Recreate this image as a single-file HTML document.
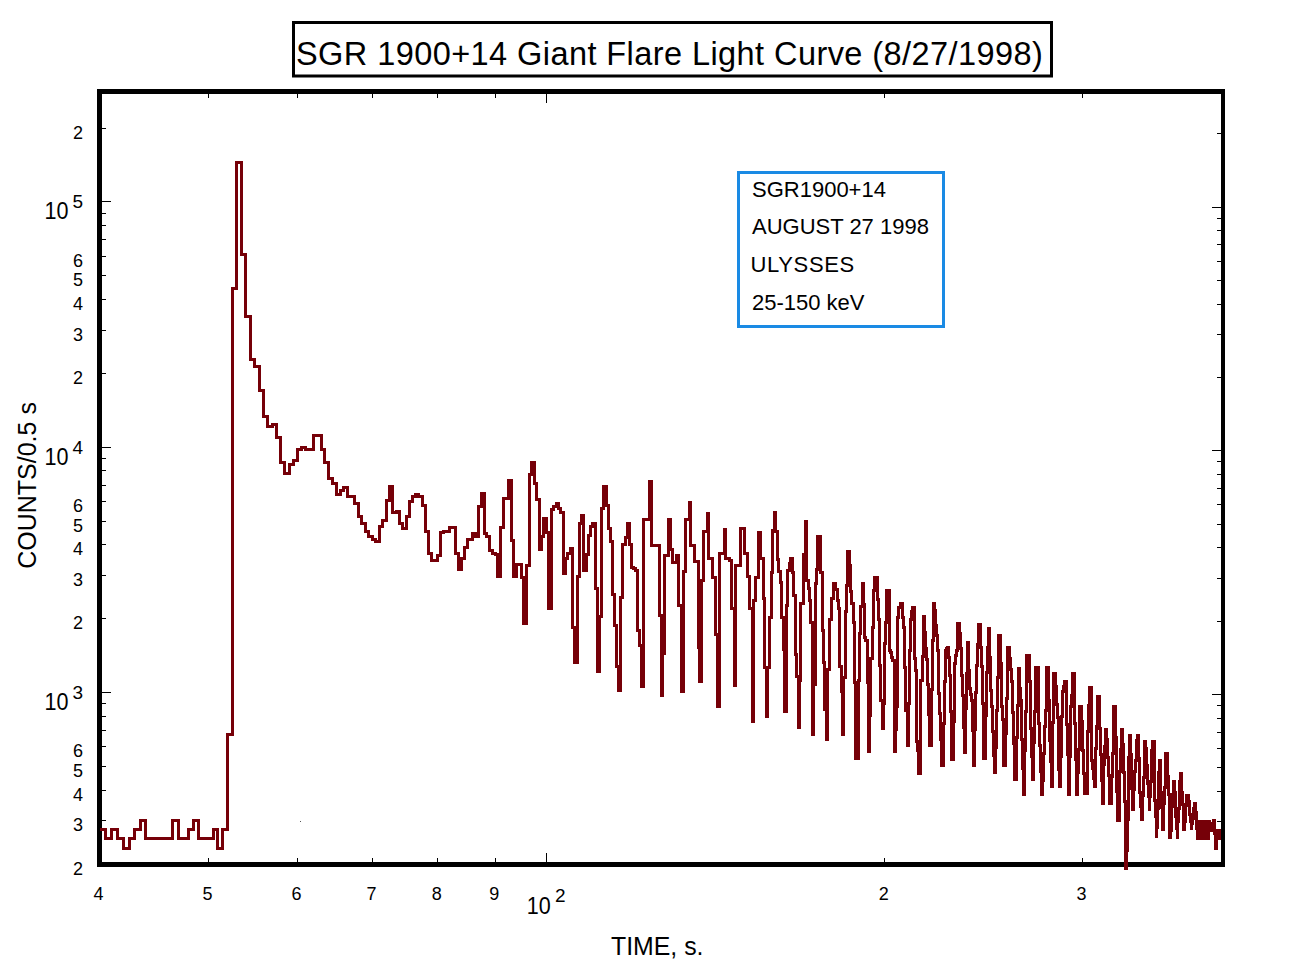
<!DOCTYPE html>
<html><head><meta charset="utf-8"><title>SGR 1900+14 Giant Flare Light Curve</title>
<style>
html,body{margin:0;padding:0;background:#fff;overflow:hidden;}
svg{display:block;}
text{font-family:"Liberation Sans",Arial,Helvetica,sans-serif;fill:#000;}
.d{font-size:18px;}
.b{font-size:24px;}
.s{font-size:19px;}
.t{font-size:26px;}
.c{font-size:25.5px;}
.ti{font-size:32.5px;}
.lg{font-size:22px;}
</style></head><body>
<svg width="1300" height="975" viewBox="0 0 1300 975">
<rect width="1300" height="975" fill="#fff"/>
<path d="M97 89H1225V94H97ZM97 862H1225V867H97ZM97 89H102V867H97ZM1221 89H1225V867H1221Z" fill="#000"/>
<path d="M102 820h4v1h-4ZM1217 821h4v1h-4ZM102 790h4v1h-4ZM1217 791h4v1h-4ZM102 766h4v1h-4ZM1217 767h4v1h-4ZM102 746h4v1h-4ZM1217 748h4v1h-4ZM102 730h4v1h-4ZM1217 732h4v1h-4ZM102 716h4v1h-4ZM1217 718h4v1h-4ZM102 703h4v1h-4ZM1217 705h4v1h-4ZM102 692h9v1h-9ZM1212 694h9v1h-9ZM102 618h4v1h-4ZM1217 621h4v1h-4ZM102 575h4v1h-4ZM1217 578h4v1h-4ZM102 544h4v1h-4ZM1217 547h4v1h-4ZM102 521h4v1h-4ZM1217 524h4v1h-4ZM102 501h4v1h-4ZM1217 504h4v1h-4ZM102 485h4v1h-4ZM1217 488h4v1h-4ZM102 470h4v1h-4ZM1217 474h4v1h-4ZM102 458h4v1h-4ZM1217 461h4v1h-4ZM102 447h9v1h-9ZM1212 450h9v1h-9ZM102 373h4v1h-4ZM1217 377h4v1h-4ZM102 330h4v1h-4ZM1217 334h4v1h-4ZM102 299h4v1h-4ZM1217 304h4v1h-4ZM102 275h4v1h-4ZM1217 280h4v1h-4ZM102 256h4v1h-4ZM1217 261h4v1h-4ZM102 239h4v1h-4ZM1217 244h4v1h-4ZM102 225h4v1h-4ZM1217 230h4v1h-4ZM102 213h4v1h-4ZM1217 218h4v1h-4ZM102 201h9v1h-9ZM1212 207h9v1h-9ZM102 128h4v1h-4ZM1217 133h4v1h-4ZM208 858h1v4h-1ZM208 94h1v4h-1ZM297 858h1v4h-1ZM297 94h1v4h-1ZM372 858h1v4h-1ZM372 94h1v4h-1ZM437 858h1v4h-1ZM437 94h1v4h-1ZM495 858h1v4h-1ZM495 94h1v4h-1ZM546 853h1v9h-1ZM546 94h1v9h-1ZM884 858h1v4h-1ZM884 94h1v4h-1ZM1082 858h1v4h-1ZM1082 94h1v4h-1Z" fill="#000"/>
<text x="83" y="138.6" text-anchor="end" class="d">2</text>
<text x="83" y="266.8" text-anchor="end" class="d">6</text>
<text x="83" y="286.2" text-anchor="end" class="d">5</text>
<text x="83" y="310.0" text-anchor="end" class="d">4</text>
<text x="83" y="340.7" text-anchor="end" class="d">3</text>
<text x="83" y="383.9" text-anchor="end" class="d">2</text>
<text x="83" y="512.1" text-anchor="end" class="d">6</text>
<text x="83" y="531.5" text-anchor="end" class="d">5</text>
<text x="83" y="555.3" text-anchor="end" class="d">4</text>
<text x="83" y="586.0" text-anchor="end" class="d">3</text>
<text x="83" y="629.2" text-anchor="end" class="d">2</text>
<text x="83" y="757.4" text-anchor="end" class="d">6</text>
<text x="83" y="776.8" text-anchor="end" class="d">5</text>
<text x="83" y="800.6" text-anchor="end" class="d">4</text>
<text x="83" y="831.3" text-anchor="end" class="d">3</text>
<text x="83" y="874.5" text-anchor="end" class="d">2</text>
<text x="44.6" y="710.0" class="b" textLength="24" lengthAdjust="spacingAndGlyphs">10</text><text x="72.6" y="699.0" class="s">3</text>
<text x="44.6" y="464.7" class="b" textLength="24" lengthAdjust="spacingAndGlyphs">10</text><text x="72.6" y="453.7" class="s">4</text>
<text x="44.6" y="219.4" class="b" textLength="24" lengthAdjust="spacingAndGlyphs">10</text><text x="72.6" y="208.4" class="s">5</text>
<text x="98.6" y="900" text-anchor="middle" class="d">4</text>
<text x="207.5" y="900" text-anchor="middle" class="d">5</text>
<text x="296.4" y="900" text-anchor="middle" class="d">6</text>
<text x="371.6" y="900" text-anchor="middle" class="d">7</text>
<text x="436.8" y="900" text-anchor="middle" class="d">8</text>
<text x="494.2" y="900" text-anchor="middle" class="d">9</text>
<text x="883.7" y="900" text-anchor="middle" class="d">2</text>
<text x="1081.5" y="900" text-anchor="middle" class="d">3</text>
<text x="526.8" y="913.5" class="b" textLength="24" lengthAdjust="spacingAndGlyphs">10</text><text x="555" y="901.5" class="s">2</text>
<text x="611" y="955" class="t" textLength="92.5" lengthAdjust="spacingAndGlyphs">TIME, s.</text>
<text transform="translate(36,568.7) rotate(-90)" class="c" textLength="166.6" lengthAdjust="spacingAndGlyphs">COUNTS/0.5 s</text>
<path d="M292 21H1053V24H292ZM292 74.6H1053V77.5H292ZM292 21H295V77.5H292ZM1050 21H1053V77.5H1050Z" fill="#000"/>
<text x="296" y="64.6" class="ti" textLength="746.8" lengthAdjust="spacing">SGR 1900+14 Giant Flare Light Curve (8/27/1998)</text>
<path d="M737 171H945V174H737ZM737 325H945V328H737ZM737 171H740V328H737ZM942 171H945V328H942Z" fill="#1a8ae4"/>
<text x="752" y="196.7" class="lg">SGR1900+14</text>
<text x="752" y="234.4" class="lg">AUGUST 27 1998</text>
<text x="750.6" y="272.1" class="lg" textLength="103.6" lengthAdjust="spacing">ULYSSES</text>
<text x="752" y="309.8" class="lg">25-150 keV</text>
<path d="M101.5 829.5L105.5 829.5L105.5 838.5L111.5 838.5L111.5 829.5L117.5 829.5L117.5 838.5L123.5 838.5L123.5 848.5L129.5 848.5L129.5 838.5L134.5 838.5L134.5 829.5L140.5 829.5L140.5 820.5L145.5 820.5L145.5 838.5L172.5 838.5L172.5 820.5L178.5 820.5L178.5 838.5L188.5 838.5L188.5 829.5L193.5 829.5L193.5 820.5L198.5 820.5L198.5 838.5L213.5 838.5L213.5 829.5L217.5 829.5L217.5 848.5L222.5 848.5L222.5 829.5L227.5 829.5L227.5 734.5L232.5 734.5L232.5 288.5L236.5 288.5L236.5 162.5L241.5 162.5L241.5 254.5L245.5 254.5L245.5 316.5L250.5 316.5L250.5 359.5L254.5 359.5L254.5 366.5L259.5 366.5L259.5 390.5L263.5 390.5L263.5 416.5L267.5 416.5L267.5 426.5L272.5 426.5L272.5 424.5L276.5 424.5L276.5 437.5L280.5 437.5L280.5 462.5L284.5 462.5L284.5 473.5L289.5 473.5L289.5 464.5L293.5 464.5L293.5 460.5L297.5 460.5L297.5 449.5L301.5 449.5L301.5 447.5L305.5 447.5L305.5 449.5L313.5 449.5L313.5 435.5L321.5 435.5L321.5 449.5L324.5 449.5L324.5 462.5L328.5 462.5L328.5 478.5L332.5 478.5L332.5 483.5L336.5 483.5L336.5 494.5L340.5 494.5L340.5 490.5L343.5 490.5L343.5 487.5L347.5 487.5L347.5 496.5L354.5 496.5L354.5 503.5L358.5 503.5L358.5 516.5L361.5 516.5L361.5 523.5L365.5 523.5L365.5 531.5L368.5 531.5L368.5 536.5L372.5 536.5L372.5 539.5L375.5 539.5L375.5 541.5L379.5 541.5L379.5 526.5L382.5 526.5L382.5 520.5L386.5 520.5L386.5 500.5L389.5 500.5L389.5 486.5L392.5 486.5L392.5 512.5L396.5 512.5L396.5 511.5L399.5 511.5L399.5 523.5L402.5 523.5L402.5 528.5L406.5 528.5L406.5 516.5L409.5 516.5L409.5 501.5L412.5 501.5L412.5 496.5L415.5 496.5L415.5 494.5L418.5 494.5L418.5 496.5L422.5 496.5L422.5 505.5L425.5 505.5L425.5 531.5L428.5 531.5L428.5 553.5L431.5 553.5L431.5 560.5L437.5 560.5L437.5 555.5L440.5 555.5L440.5 532.5L443.5 532.5L443.5 531.5L449.5 531.5L449.5 527.5L455.5 527.5L455.5 553.5L458.5 553.5L458.5 569.5L461.5 569.5L461.5 558.5L464.5 558.5L464.5 547.5L467.5 547.5L467.5 539.5L472.5 539.5L472.5 533.5L475.5 533.5L475.5 536.5L478.5 536.5L478.5 506.5L481.5 506.5L481.5 493.5L484.5 493.5L484.5 533.5L486.5 533.5L486.5 536.5L489.5 536.5L489.5 550.5L492.5 550.5L492.5 553.5L495.5 553.5L495.5 554.5L497.5 554.5L497.5 576.5L500.5 576.5L500.5 527.5L503.5 527.5L503.5 498.5L508.5 498.5L508.5 480.5L511.5 480.5L511.5 540.5L513.5 540.5L513.5 576.5L516.5 576.5L516.5 564.5L521.5 564.5L521.5 577.5L523.5 577.5L523.5 623.5L526.5 623.5L526.5 565.5L529.5 565.5L529.5 474.5L531.5 474.5L531.5 462.5L534.5 462.5L534.5 483.5L536.5 483.5L536.5 499.5L539.5 499.5L539.5 549.5L541.5 549.5L541.5 536.5L543.5 536.5L543.5 518.5L546.5 518.5L546.5 532.5L548.5 532.5L548.5 608.5L551.5 608.5L551.5 509.5L553.5 509.5L553.5 506.5L556.5 506.5L556.5 503.5L558.5 503.5L558.5 508.5L560.5 508.5L560.5 512.5L563.5 512.5L563.5 573.5L565.5 573.5L565.5 558.5L567.5 558.5L567.5 553.5L570.5 553.5L570.5 548.5L572.5 548.5L572.5 627.5L574.5 627.5L574.5 662.5L577.5 662.5L577.5 576.5L579.5 576.5L579.5 523.5L581.5 523.5L581.5 515.5L583.5 515.5L583.5 570.5L586.5 570.5L586.5 554.5L588.5 554.5L588.5 535.5L590.5 535.5L590.5 526.5L592.5 526.5L592.5 523.5L595.5 523.5L595.5 588.5L597.5 588.5L597.5 671.5L599.5 671.5L599.5 616.5L601.5 616.5L601.5 508.5L603.5 508.5L603.5 486.5L606.5 486.5L606.5 505.5L608.5 505.5L608.5 528.5L610.5 528.5L610.5 541.5L612.5 541.5L612.5 594.5L614.5 594.5L614.5 625.5L616.5 625.5L616.5 666.5L618.5 666.5L618.5 690.5L620.5 690.5L620.5 597.5L622.5 597.5L622.5 544.5L625.5 544.5L625.5 537.5L627.5 537.5L627.5 523.5L629.5 523.5L629.5 544.5L631.5 544.5L631.5 567.5L633.5 567.5L633.5 568.5L635.5 568.5L635.5 570.5L637.5 570.5L637.5 630.5L639.5 630.5L639.5 645.5L641.5 645.5L641.5 686.5L643.5 686.5L643.5 519.5L649.5 519.5L649.5 481.5L651.5 481.5L651.5 545.5L659.5 545.5L659.5 615.5L661.5 615.5L661.5 695.5L662.5 695.5L662.5 653.5L664.5 653.5L664.5 555.5L668.5 555.5L668.5 519.5L670.5 519.5L670.5 549.5L672.5 549.5L672.5 562.5L676.5 562.5L676.5 555.5L678.5 555.5L678.5 605.5L681.5 605.5L681.5 691.5L683.5 691.5L683.5 571.5L685.5 571.5L685.5 519.5L689.5 519.5L689.5 502.5L690.5 502.5L690.5 545.5L694.5 545.5L694.5 561.5L698.5 561.5L698.5 647.5L699.5 647.5L699.5 681.5L701.5 681.5L701.5 580.5L703.5 580.5L703.5 531.5L707.5 531.5L707.5 513.5L708.5 513.5L708.5 558.5L712.5 558.5L712.5 577.5L715.5 577.5L715.5 634.5L717.5 634.5L717.5 706.5L719.5 706.5L719.5 553.5L724.5 553.5L724.5 529.5L725.5 529.5L725.5 558.5L729.5 558.5L729.5 560.5L731.5 560.5L731.5 608.5L734.5 608.5L734.5 685.5L735.5 685.5L735.5 565.5L740.5 565.5L740.5 528.5L744.5 528.5L744.5 553.5L747.5 553.5L747.5 576.5L749.5 576.5L749.5 608.5L752.5 608.5L752.5 721.5L753.5 721.5L753.5 600.5L755.5 600.5L755.5 577.5L758.5 577.5L758.5 532.5L760.5 532.5L760.5 558.5L763.5 558.5L763.5 598.5L764.5 598.5L764.5 667.5L766.5 667.5L766.5 716.5L767.5 716.5L767.5 667.5L769.5 667.5L769.5 617.5L771.5 617.5L771.5 572.5L772.5 572.5L772.5 530.5L774.5 530.5L774.5 512.5L775.5 512.5L775.5 531.5L777.5 531.5L777.5 559.5L778.5 559.5L778.5 571.5L780.5 571.5L780.5 582.5L781.5 582.5L781.5 617.5L783.5 617.5L783.5 649.5L784.5 649.5L784.5 711.5L786.5 711.5L786.5 605.5L787.5 605.5L787.5 570.5L789.5 570.5L789.5 563.5L790.5 563.5L790.5 558.5L792.5 558.5L792.5 572.5L793.5 572.5L793.5 595.5L795.5 595.5L795.5 654.5L796.5 654.5L796.5 676.5L798.5 676.5L798.5 727.5L799.5 727.5L799.5 680.5L800.5 680.5L800.5 603.5L803.5 603.5L803.5 554.5L805.5 554.5L805.5 521.5L806.5 521.5L806.5 580.5L808.5 580.5L808.5 588.5L809.5 588.5L809.5 600.5L810.5 600.5L810.5 622.5L812.5 622.5L812.5 734.5L813.5 734.5L813.5 684.5L815.5 684.5L815.5 583.5L816.5 583.5L816.5 569.5L817.5 569.5L817.5 536.5L820.5 536.5L820.5 572.5L822.5 572.5L822.5 630.5L823.5 630.5L823.5 662.5L824.5 662.5L824.5 709.5L826.5 709.5L826.5 739.5L827.5 739.5L827.5 669.5L829.5 669.5L829.5 619.5L831.5 619.5L831.5 598.5L833.5 598.5L833.5 583.5L835.5 583.5L835.5 589.5L837.5 589.5L837.5 600.5L838.5 600.5L838.5 608.5L839.5 608.5L839.5 666.5L841.5 666.5L841.5 691.5L842.5 691.5L842.5 734.5L843.5 734.5L843.5 677.5L845.5 677.5L845.5 611.5L846.5 611.5L846.5 585.5L847.5 585.5L847.5 551.5L849.5 551.5L849.5 565.5L850.5 565.5L850.5 591.5L851.5 591.5L851.5 603.5L853.5 603.5L853.5 622.5L854.5 622.5L854.5 682.5L855.5 682.5L855.5 758.5L858.5 758.5L858.5 680.5L859.5 680.5L859.5 633.5L860.5 633.5L860.5 606.5L862.5 606.5L862.5 583.5L863.5 583.5L863.5 604.5L864.5 604.5L864.5 637.5L865.5 637.5L865.5 640.5L867.5 640.5L867.5 682.5L868.5 682.5L868.5 751.5L869.5 751.5L869.5 715.5L870.5 715.5L870.5 658.5L872.5 658.5L872.5 627.5L873.5 627.5L873.5 590.5L874.5 590.5L874.5 577.5L877.5 577.5L877.5 599.5L878.5 599.5L878.5 619.5L879.5 619.5L879.5 665.5L880.5 665.5L880.5 700.5L882.5 700.5L882.5 728.5L883.5 728.5L883.5 703.5L884.5 703.5L884.5 643.5L885.5 643.5L885.5 622.5L886.5 622.5L886.5 590.5L889.5 590.5L889.5 650.5L890.5 650.5L890.5 652.5L891.5 652.5L891.5 657.5L892.5 657.5L892.5 660.5L894.5 660.5L894.5 751.5L895.5 751.5L895.5 729.5L896.5 729.5L896.5 706.5L897.5 706.5L897.5 617.5L898.5 617.5L898.5 607.5L900.5 607.5L900.5 603.5L902.5 603.5L902.5 617.5L903.5 617.5L903.5 627.5L904.5 627.5L904.5 667.5L905.5 667.5L905.5 710.5L907.5 710.5L907.5 745.5L908.5 745.5L908.5 703.5L909.5 703.5L909.5 650.5L910.5 650.5L910.5 619.5L911.5 619.5L911.5 611.5L912.5 611.5L912.5 607.5L914.5 607.5L914.5 658.5L915.5 658.5L915.5 670.5L916.5 670.5L916.5 741.5L917.5 741.5L917.5 750.5L918.5 750.5L918.5 773.5L920.5 773.5L920.5 680.5L922.5 680.5L922.5 656.5L923.5 656.5L923.5 616.5L924.5 616.5L924.5 632.5L925.5 632.5L925.5 648.5L926.5 648.5L926.5 659.5L927.5 659.5L927.5 684.5L928.5 684.5L928.5 714.5L929.5 714.5L929.5 745.5L931.5 745.5L931.5 689.5L932.5 689.5L932.5 640.5L933.5 640.5L933.5 603.5L934.5 603.5L934.5 610.5L935.5 610.5L935.5 625.5L936.5 625.5L936.5 635.5L937.5 635.5L937.5 650.5L938.5 650.5L938.5 693.5L939.5 693.5L939.5 713.5L940.5 713.5L940.5 739.5L941.5 739.5L941.5 765.5L943.5 765.5L943.5 723.5L944.5 723.5L944.5 681.5L945.5 681.5L945.5 650.5L946.5 650.5L946.5 648.5L947.5 648.5L947.5 647.5L948.5 647.5L948.5 657.5L949.5 657.5L949.5 675.5L950.5 675.5L950.5 711.5L951.5 711.5L951.5 759.5L953.5 759.5L953.5 721.5L954.5 721.5L954.5 663.5L955.5 663.5L955.5 655.5L956.5 655.5L956.5 650.5L957.5 650.5L957.5 623.5L959.5 623.5L959.5 633.5L960.5 633.5L960.5 648.5L961.5 648.5L961.5 675.5L962.5 675.5L962.5 695.5L963.5 695.5L963.5 727.5L964.5 727.5L964.5 752.5L965.5 752.5L965.5 708.5L966.5 708.5L966.5 673.5L967.5 673.5L967.5 642.5L968.5 642.5L968.5 670.5L969.5 670.5L969.5 688.5L970.5 688.5L970.5 694.5L971.5 694.5L971.5 700.5L972.5 700.5L972.5 730.5L973.5 730.5L973.5 765.5L974.5 765.5L974.5 729.5L975.5 729.5L975.5 692.5L976.5 692.5L976.5 665.5L977.5 665.5L977.5 644.5L978.5 644.5L978.5 624.5L980.5 624.5L980.5 647.5L981.5 647.5L981.5 666.5L982.5 666.5L982.5 703.5L983.5 703.5L983.5 758.5L985.5 758.5L985.5 715.5L986.5 715.5L986.5 672.5L987.5 672.5L987.5 647.5L988.5 647.5L988.5 628.5L989.5 628.5L989.5 657.5L990.5 657.5L990.5 690.5L991.5 690.5L991.5 706.5L992.5 706.5L992.5 731.5L993.5 731.5L993.5 755.5L994.5 755.5L994.5 772.5L995.5 772.5L995.5 747.5L996.5 747.5L996.5 710.5L997.5 710.5L997.5 677.5L998.5 677.5L998.5 635.5L1000.5 635.5L1000.5 663.5L1001.5 663.5L1001.5 706.5L1002.5 706.5L1002.5 719.5L1003.5 719.5L1003.5 765.5L1005.5 765.5L1005.5 733.5L1006.5 733.5L1006.5 698.5L1007.5 698.5L1007.5 647.5L1009.5 647.5L1009.5 658.5L1010.5 658.5L1010.5 669.5L1011.5 669.5L1011.5 681.5L1012.5 681.5L1012.5 712.5L1013.5 712.5L1013.5 743.5L1014.5 743.5L1014.5 779.5L1016.5 779.5L1016.5 737.5L1017.5 737.5L1017.5 705.5L1018.5 705.5L1018.5 668.5L1019.5 668.5L1019.5 688.5L1020.5 688.5L1020.5 700.5L1021.5 700.5L1021.5 739.5L1022.5 739.5L1022.5 768.5L1023.5 768.5L1023.5 794.5L1024.5 794.5L1024.5 750.5L1025.5 750.5L1025.5 711.5L1026.5 711.5L1026.5 655.5L1029.5 655.5L1029.5 681.5L1030.5 681.5L1030.5 728.5L1031.5 728.5L1031.5 756.5L1032.5 756.5L1032.5 779.5L1033.5 779.5L1033.5 742.5L1034.5 742.5L1034.5 711.5L1035.5 711.5L1035.5 667.5L1038.5 667.5L1038.5 723.5L1039.5 723.5L1039.5 745.5L1040.5 745.5L1040.5 771.5L1041.5 771.5L1041.5 794.5L1042.5 794.5L1042.5 780.5L1043.5 780.5L1043.5 753.5L1044.5 753.5L1044.5 726.5L1045.5 726.5L1045.5 710.5L1046.5 710.5L1046.5 667.5L1048.5 667.5L1048.5 700.5L1049.5 700.5L1049.5 740.5L1050.5 740.5L1050.5 761.5L1051.5 761.5L1051.5 786.5L1052.5 786.5L1052.5 722.5L1053.5 722.5L1053.5 673.5L1055.5 673.5L1055.5 686.5L1056.5 686.5L1056.5 704.5L1057.5 704.5L1057.5 717.5L1058.5 717.5L1058.5 769.5L1059.5 769.5L1059.5 786.5L1060.5 786.5L1060.5 756.5L1061.5 756.5L1061.5 716.5L1062.5 716.5L1062.5 691.5L1063.5 691.5L1063.5 686.5L1064.5 686.5L1064.5 681.5L1066.5 681.5L1066.5 724.5L1067.5 724.5L1067.5 754.5L1068.5 754.5L1068.5 794.5L1069.5 794.5L1069.5 756.5L1070.5 756.5L1070.5 706.5L1071.5 706.5L1071.5 695.5L1072.5 695.5L1072.5 673.5L1074.5 673.5L1074.5 723.5L1075.5 723.5L1075.5 759.5L1076.5 759.5L1076.5 794.5L1077.5 794.5L1077.5 772.5L1078.5 772.5L1078.5 749.5L1079.5 749.5L1079.5 706.5L1081.5 706.5L1081.5 721.5L1082.5 721.5L1082.5 750.5L1083.5 750.5L1083.5 773.5L1084.5 773.5L1084.5 793.5L1087.5 793.5L1087.5 731.5L1088.5 731.5L1088.5 705.5L1089.5 705.5L1089.5 687.5L1091.5 687.5L1091.5 760.5L1092.5 760.5L1092.5 768.5L1093.5 768.5L1093.5 778.5L1094.5 778.5L1094.5 786.5L1095.5 786.5L1095.5 748.5L1096.5 748.5L1096.5 726.5L1097.5 726.5L1097.5 696.5L1099.5 696.5L1099.5 728.5L1100.5 728.5L1100.5 754.5L1101.5 754.5L1101.5 780.5L1102.5 780.5L1102.5 803.5L1103.5 803.5L1103.5 764.5L1104.5 764.5L1104.5 746.5L1105.5 746.5L1105.5 729.5L1106.5 729.5L1106.5 739.5L1107.5 739.5L1107.5 757.5L1108.5 757.5L1108.5 775.5L1109.5 775.5L1109.5 803.5L1111.5 803.5L1111.5 776.5L1112.5 776.5L1112.5 753.5L1113.5 753.5L1113.5 706.5L1115.5 706.5L1115.5 737.5L1116.5 737.5L1116.5 791.5L1117.5 791.5L1117.5 820.5L1119.5 820.5L1119.5 771.5L1120.5 771.5L1120.5 749.5L1121.5 749.5L1121.5 729.5L1122.5 729.5L1122.5 744.5L1123.5 744.5L1123.5 772.5L1124.5 772.5L1124.5 801.5L1125.5 801.5L1125.5 868.5L1126.5 868.5L1126.5 850.5L1127.5 850.5L1127.5 819.5L1128.5 819.5L1128.5 757.5L1129.5 757.5L1129.5 735.5L1130.5 735.5L1130.5 754.5L1131.5 754.5L1131.5 788.5L1132.5 788.5L1132.5 809.5L1133.5 809.5L1133.5 789.5L1134.5 789.5L1134.5 771.5L1135.5 771.5L1135.5 760.5L1136.5 760.5L1136.5 740.5L1137.5 740.5L1137.5 735.5L1138.5 735.5L1138.5 758.5L1139.5 758.5L1139.5 792.5L1140.5 792.5L1140.5 806.5L1141.5 806.5L1141.5 819.5L1142.5 819.5L1142.5 795.5L1143.5 795.5L1143.5 777.5L1144.5 777.5L1144.5 741.5L1145.5 741.5L1145.5 748.5L1146.5 748.5L1146.5 765.5L1147.5 765.5L1147.5 783.5L1148.5 783.5L1148.5 796.5L1149.5 796.5L1149.5 810.5L1149.5 796.5L1150.5 796.5L1150.5 781.5L1151.5 781.5L1151.5 750.5L1152.5 750.5L1152.5 741.5L1154.5 741.5L1154.5 800.5L1155.5 800.5L1155.5 816.5L1156.5 816.5L1156.5 837.5L1156.5 827.5L1157.5 827.5L1157.5 808.5L1158.5 808.5L1158.5 772.5L1159.5 772.5L1159.5 760.5L1160.5 760.5L1160.5 792.5L1161.5 792.5L1161.5 807.5L1162.5 807.5L1162.5 829.5L1163.5 829.5L1163.5 803.5L1164.5 803.5L1164.5 787.5L1165.5 787.5L1165.5 753.5L1167.5 753.5L1167.5 776.5L1168.5 776.5L1168.5 794.5L1169.5 794.5L1169.5 837.5L1170.5 837.5L1170.5 830.5L1171.5 830.5L1171.5 806.5L1172.5 806.5L1172.5 794.5L1173.5 794.5L1173.5 781.5L1174.5 781.5L1174.5 792.5L1175.5 792.5L1175.5 816.5L1176.5 816.5L1176.5 828.5L1177.5 828.5L1177.5 838.5L1177.5 821.5L1178.5 821.5L1178.5 808.5L1179.5 808.5L1179.5 781.5L1180.5 781.5L1180.5 773.5L1181.5 773.5L1181.5 792.5L1182.5 792.5L1182.5 804.5L1183.5 804.5L1183.5 829.5L1184.5 829.5L1184.5 821.5L1185.5 821.5L1185.5 805.5L1186.5 805.5L1186.5 795.5L1188.5 795.5L1188.5 801.5L1189.5 801.5L1189.5 814.5L1190.5 814.5L1190.5 821.5L1191.5 821.5L1191.5 829.5L1191.5 823.5L1192.5 823.5L1192.5 818.5L1193.5 818.5L1193.5 808.5L1194.5 808.5L1194.5 803.5L1195.5 803.5L1195.5 812.5L1196.5 812.5L1196.5 828.5L1197.5 828.5L1197.5 838.5L1198.5 838.5L1198.5 827.5L1199.5 827.5L1199.5 821.5L1200.5 821.5L1200.5 830.5L1201.5 830.5L1201.5 838.5L1202.5 838.5L1202.5 821.5L1203.5 821.5L1203.5 832.5L1204.5 832.5L1204.5 838.5L1205.5 838.5L1205.5 821.5L1206.5 821.5L1206.5 828.5L1207.5 828.5L1207.5 838.5L1208.5 838.5L1208.5 821.5L1209.5 821.5L1209.5 825.5L1210.5 825.5L1210.5 830.5L1211.5 830.5L1211.5 827.5L1212.5 827.5L1212.5 823.5L1213.5 823.5L1213.5 820.5L1214.5 820.5L1214.5 833.5L1215.5 833.5L1215.5 848.5L1216.5 848.5L1216.5 830.5L1217.5 830.5L1217.5 834.5L1218.5 834.5L1218.5 838.5L1219.5 838.5L1219.5 830.5" stroke="#760008" stroke-width="3" fill="none" stroke-linejoin="miter" stroke-linecap="square" shape-rendering="crispEdges"/>
<rect x="300" y="821" width="1" height="1" fill="#555"/>
</svg>
</body></html>
